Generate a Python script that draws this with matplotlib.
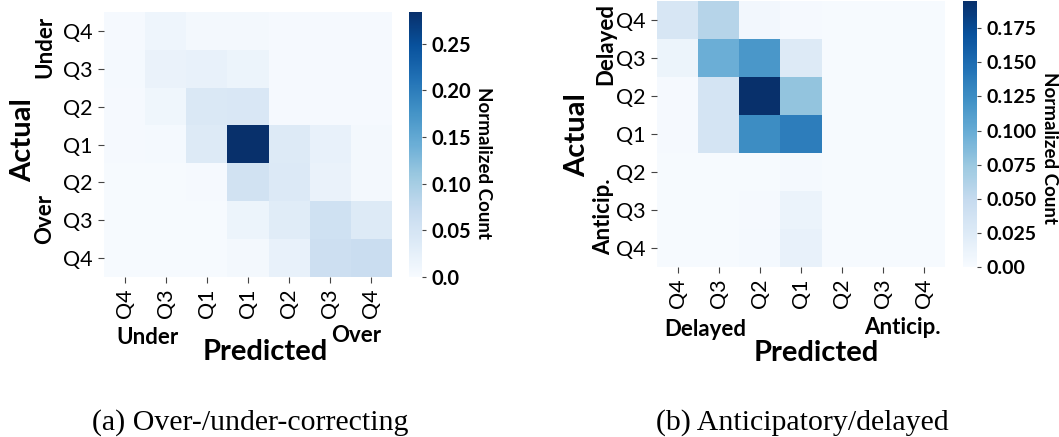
import matplotlib
matplotlib.use('Agg')
import matplotlib.pyplot as plt
import numpy as np

plt.rcParams['font.family'] = ['Lato', 'DejaVu Sans']

# quantile bins on each side of the diagonal
ticks_a_x = ['Q4', 'Q3', 'Q1', 'Q1', 'Q2', 'Q3', 'Q4']
ticks_a_y = ['Q4', 'Q3', 'Q2', 'Q1', 'Q2', 'Q3', 'Q4']
ticks_b = ['Q4', 'Q3', 'Q2', 'Q1', 'Q2', 'Q3', 'Q4']

# normalized confusion counts, rows = actual, cols = predicted
conf_a = np.array([
    [0.003, 0.013, 0.006, 0.005, 0.003, 0.003, 0.003],
    [0.004, 0.018, 0.020, 0.015, 0.003, 0.003, 0.003],
    [0.003, 0.010, 0.040, 0.043, 0.003, 0.003, 0.003],
    [0.003, 0.004, 0.037, 0.284, 0.037, 0.020, 0.005],
    [0.002, 0.002, 0.003, 0.054, 0.038, 0.018, 0.005],
    [0.002, 0.002, 0.002, 0.015, 0.033, 0.057, 0.037],
    [0.002, 0.002, 0.002, 0.005, 0.020, 0.060, 0.065],
])
conf_b = np.array([
    [0.031, 0.058, 0.005, 0.002, 0.001, 0.001, 0.001],
    [0.010, 0.097, 0.117, 0.025, 0.001, 0.001, 0.001],
    [0.002, 0.035, 0.195, 0.078, 0.001, 0.001, 0.001],
    [0.002, 0.035, 0.125, 0.137, 0.001, 0.001, 0.001],
    [0.001, 0.001, 0.001, 0.003, 0.001, 0.001, 0.001],
    [0.001, 0.001, 0.002, 0.012, 0.001, 0.001, 0.001],
    [0.001, 0.001, 0.003, 0.014, 0.001, 0.001, 0.001],
])
cbar_ticks_a = [0.0, 0.05, 0.10, 0.15, 0.20, 0.25]
cbar_labels_a = ['0.0', '0.05', '0.10', '0.15', '0.20', '0.25']
cbar_ticks_b = [0.0, 0.025, 0.05, 0.075, 0.10, 0.125, 0.15, 0.175]
cbar_labels_b = ['0.00', '0.025', '0.050', '0.075', '0.100', '0.125', '0.150', '0.175']

W, H = 1059, 437
fig = plt.figure(figsize=(W / 100, H / 100), dpi=100)


def box(x0, y0, x1, y1):
    return [x0 / W, 1 - y1 / H, (x1 - x0) / W, (y1 - y0) / H]


def ftext(x, y, s, **kw):
    fig.text(x / W, 1 - y / H, s, ha='center', va='center', **kw)


def heat(ax, cax, data, xt, yt, cticks, clabels, csize):
    im = ax.imshow(data, cmap='Blues', vmin=0, vmax=data.max(), aspect='auto',
                   interpolation='nearest')
    for s in ax.spines.values():
        s.set_visible(False)
    ax.set_xticks(range(7))
    ax.set_xticklabels(xt, rotation=90, fontsize=15.5)
    ax.set_yticks(range(7))
    ax.set_yticklabels(yt, fontsize=15.5)
    ax.tick_params(length=4, width=0.8, color='#444444', pad=4)
    cb = fig.colorbar(im, cax=cax)
    cb.outline.set_visible(False)
    cb.set_ticks(cticks)
    cb.set_ticklabels(clabels)
    cb.ax.tick_params(length=3, width=0.8, color='#444444', labelsize=csize, pad=4)
    for t in cb.ax.get_yticklabels():
        t.set_fontweight('bold')
    return cb


ax1 = fig.add_axes(box(104, 12, 392, 277))
cax1 = fig.add_axes(box(409, 12, 422, 277))
cb1 = heat(ax1, cax1, conf_a, ticks_a_x, ticks_a_y, cbar_ticks_a, cbar_labels_a, 14.5)

ax2 = fig.add_axes(box(657, 1, 945, 267))
cax2 = fig.add_axes(box(963, 1, 977, 267))
cb2 = heat(ax2, cax2, conf_b, ticks_b, ticks_b, cbar_ticks_b, cbar_labels_b, 14)

bold = dict(fontweight='bold')
ftext(483, 163, 'Normalized Count', rotation=270, fontsize=13.5, **bold)
ftext(1049, 148, 'Normalized Count', rotation=270, fontsize=13.5, **bold)

# group labels for panel (a)
ftext(23, 140, 'Actual', rotation=90, fontsize=21, **bold)
ftext(45, 47, 'Under', rotation=90, fontsize=16, **bold)
ftext(45, 219, 'Over', rotation=90, fontsize=16, **bold)
ftext(147, 338, 'Under', fontsize=16, **bold)
ftext(356, 335, 'Over', fontsize=16, **bold)
ftext(265, 352, 'Predicted', fontsize=21, **bold)

# group labels for panel (b)
ftext(577, 135, 'Actual', rotation=90, fontsize=21, **bold)
ftext(606, 44, 'Delayed', rotation=90, fontsize=16, **bold)
ftext(604, 217, 'Anticip.', rotation=90, fontsize=16, **bold)
ftext(705, 329, 'Delayed', fontsize=16, **bold)
ftext(902, 327, 'Anticip.', fontsize=16, **bold)
ftext(816, 353, 'Predicted', fontsize=21, **bold)

cap = dict(family='Liberation Serif', fontsize=21.5)
ftext(250, 423, '(a) Over-/under-correcting', **cap)
ftext(802, 423, '(b) Anticipatory/delayed', **cap)

fig.savefig('out.png', dpi=100)
